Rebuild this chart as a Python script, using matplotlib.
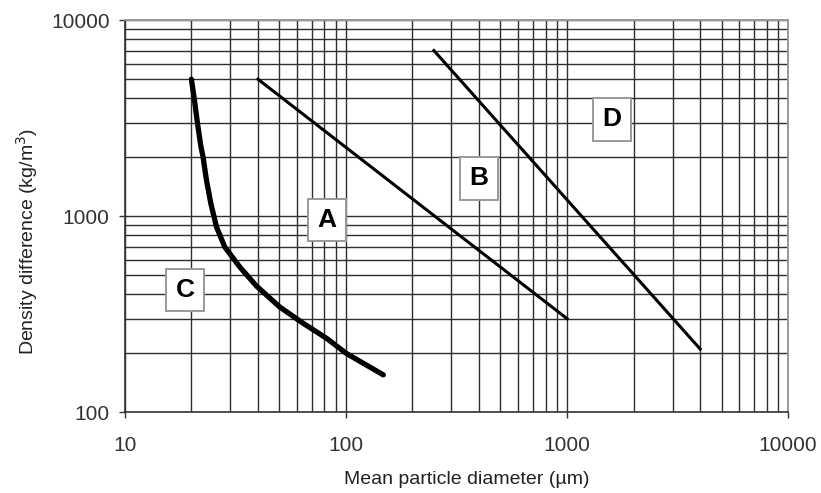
import numpy as np
import matplotlib.pyplot as plt

plt.rcParams.update({
    "font.family": ["Liberation Sans", "DejaVu Sans"],
    "font.size": 12,
})

# --- Group boundaries (diameter in um, density difference in kg/m3) ---
c_dp = [20, 20.6, 21.3, 22.1, 22.6, 23.4, 24.5, 26.0, 28.3, 33.1, 39.4, 50.2, 64.1, 81.8, 100.7, 147.6]
c_rho = [5000, 4000, 3000, 2260, 2000, 1530, 1160, 880, 697, 551, 440, 344, 284, 238, 199, 155]

ab_dp = [40, 1000]
ab_rho = [5000, 300]

bd_dp = [250, 4000]
bd_rho = [7000, 210]

groups = ["A", "B", "C", "D"]
group_dp = [82, 400, 18.7, 1600]
group_rho = [955, 1560, 420, 3120]

# --- Figure ---
fig = plt.figure(figsize=(8.21, 4.93), dpi=100)
ax = fig.add_axes([0.152, 0.164, 0.808, 0.795])

ax.set_xscale("log")
ax.set_yscale("log")
ax.set_xlim(10, 10000)
ax.set_ylim(100, 10000)

ax.grid(True, which="both", color="#2e2e2e", linewidth=1.0)
ax.set_axisbelow(True)

ax.plot(c_dp, c_rho, color="black", lw=3.8, solid_capstyle="round", solid_joinstyle="round")
ax.plot(ab_dp, ab_rho, color="black", lw=2.2)
ax.plot(bd_dp, bd_rho, color="black", lw=2.2)

for name, x, y in zip(groups, group_dp, group_rho):
    ax.text(x, y, name, fontsize=19, fontweight="bold", ha="center", va="center",
            bbox=dict(boxstyle="square,pad=0.35", fc="white", ec="#999999", lw=1.4))

ax.set_xticks([10, 100, 1000, 10000])
ax.set_xticklabels(["10", "100", "1000", "10000"])
ax.set_yticks([100, 1000, 10000])
ax.set_yticklabels(["100", "1000", "10000"])
ax.tick_params(which="major", direction="out", length=4, width=1, color="#333333",
               labelsize=15, labelcolor="#333333")
ax.tick_params(axis="x", pad=13)
ax.tick_params(axis="y", pad=7)
ax.tick_params(which="minor", length=0)

for side in ["left", "bottom"]:
    ax.spines[side].set_color("#333333")
    ax.spines[side].set_linewidth(1.2)
for side in ["top", "right"]:
    ax.spines[side].set_color("#999999")
    ax.spines[side].set_linewidth(1.4)

ax.set_xlabel("Mean particle diameter (µm)", fontsize=14, color="#222222")
ax.set_ylabel("Density difference (kg/m$^3$)", fontsize=14, color="#222222")
ax.xaxis.set_label_coords(0.516, -0.15)
ax.yaxis.set_label_coords(-0.128, 0.436)

fig.savefig("out.png", dpi=100)
